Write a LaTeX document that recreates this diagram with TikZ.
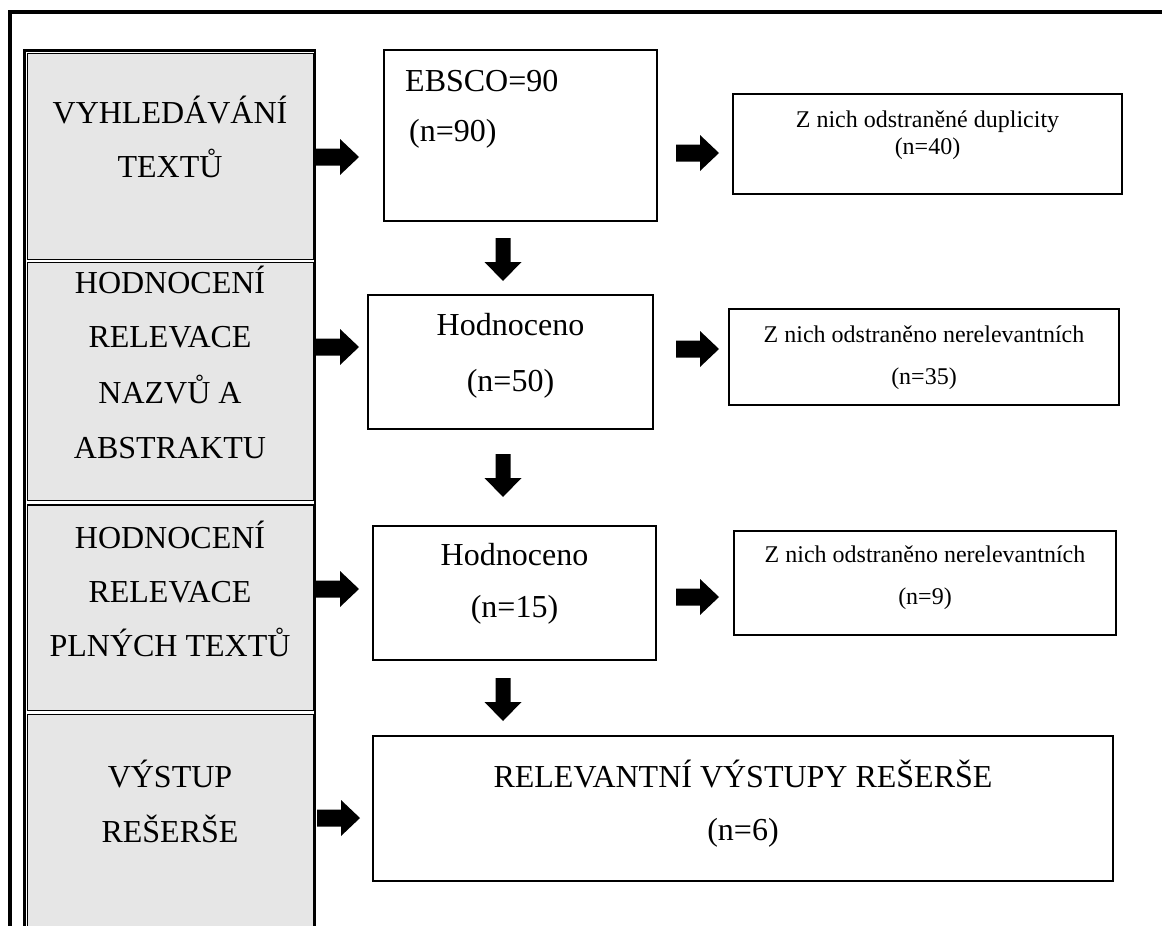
\documentclass[tikz,border=0pt]{standalone}
\usepackage{fontspec}
\setmainfont{Liberation Serif}
\definecolor{cellgray}{HTML}{E6E6E6}
\newcommand{\blkR}[1]{\fill (#1) ++(0,-8.5) -- ++(24,0) -- ++(0,-9.5) -- ++(19,18) -- ++(-19,18) -- ++(0,-9.5) -- ++(-24,0) -- cycle;}
\newcommand{\blkD}[1]{\fill (#1) ++(-7.5,0) -- ++(15,0) -- ++(0,24) -- ++(11,0) -- ++(-18.5,19) -- ++(-18.5,-19) -- ++(11,0) -- cycle;}
\begin{document}
\begin{tikzpicture}[x=1pt,y=-1pt,
  cell/.style={draw, line width=1.2pt, fill=cellgray},
  box/.style={draw, line width=1.8pt, inner sep=0pt},
  big/.style={font=\fontsize{32}{38}\selectfont, anchor=base, inner sep=0pt},
  small/.style={font=\fontsize{24}{28}\selectfont, anchor=base, inner sep=0pt}]
\useasboundingbox (0,0) rectangle (1162,926);
\clip (0,0) rectangle (1162,926);
% outer frame
\draw[line width=4pt] (9.5,960) -- (9.5,11.5) -- (1170,11.5);
% left column
\draw[line width=2.5pt] (24.6,50.5) rectangle (315.2,980);
\draw[cell] (27.3,53.2) rectangle (313.1,259.3);
\draw[cell] (27.3,262.7) rectangle (313.1,500.3);
\draw[cell] (27.3,505) rectangle (313.1,710.3);
\draw[cell] (27.3,714.3) rectangle (313.1,975);
\node[big] (l1a) at (170,123) {VYHLEDÁVÁNÍ};
\node[big] (l1b) at (170,177) {TEXTŮ};
\node[big] (l2a) at (170,293) {HODNOCENÍ};
\node[big] (l2b) at (170,347) {RELEVACE};
\node[big] (l2c) at (170,403) {NAZVŮ A};
\node[big] (l2d) at (170,458) {ABSTRAKTU};
\node[big] (l3a) at (170,548) {HODNOCENÍ};
\node[big] (l3b) at (170,602) {RELEVACE};
\node[big] (l3c) at (170,656) {PLNÝCH TEXTŮ};
\node[big] (l4a) at (170,787) {VÝSTUP};
\node[big] (l4b) at (170,842) {REŠERŠE};
% middle boxes
\node[box, minimum width=273pt, minimum height=171pt] (ebsco) at (520.5,135.5) {};
\node[big, anchor=base west] (ebscoa) at (405,91) {EBSCO=90};
\node[big, anchor=base west] (ebscob) at (409,141) {(n=90)};
\node[box, minimum width=285pt, minimum height=134pt] (hod1) at (510.5,362) {};
\node[big] (hod1a) at (510.5,335) {Hodnoceno};
\node[big] (hod1b) at (510.5,391) {(n=50)};
\node[box, minimum width=283pt, minimum height=134pt] (hod2) at (514.5,593) {};
\node[big] (hod2a) at (514.5,565) {Hodnoceno};
\node[big] (hod2b) at (514.5,617) {(n=15)};
\node[box, minimum width=740pt, minimum height=145pt] (rel) at (743,808.5) {};
\node[big] (rela) at (743,787) {RELEVANTNÍ VÝSTUPY REŠERŠE};
\node[big] (relb) at (743,840) {(n=6)};
% right boxes
\node[box, minimum width=389pt, minimum height=100pt] (r1) at (927.5,144) {};
\node[small] (r1a) at (927.5,127) {Z nich odstraněné duplicity};
\node[small] (r1b) at (927.5,154) {(n=40)};
\node[box, minimum width=390pt, minimum height=96pt] (r2) at (924,357) {};
\node[small] (r2a) at (924,342) {Z nich odstraněno nerelevantních};
\node[small] (r2b) at (924,384) {(n=35)};
\node[box, minimum width=382pt, minimum height=104pt] (r3) at (925,583) {};
\node[small] (r3a) at (925,562) {Z nich odstraněno nerelevantních};
\node[small] (r3b) at (925,604) {(n=9)};
% block arrows
\coordinate (al1) at (316,157);
\coordinate (al2) at (316,347);
\coordinate (al3) at (316,589);
\coordinate (al4) at (317,818);
\coordinate (am1) at (676,153);
\coordinate (am2) at (676,349);
\coordinate (am3) at (676,597);
\coordinate (ad1) at (503,238);
\coordinate (ad2) at (503,454);
\coordinate (ad3) at (503,678);
\blkR{al1}\blkR{al2}\blkR{al3}\blkR{al4}
\blkR{am1}\blkR{am2}\blkR{am3}
\blkD{ad1}\blkD{ad2}\blkD{ad3}
\end{tikzpicture}
\end{document}
